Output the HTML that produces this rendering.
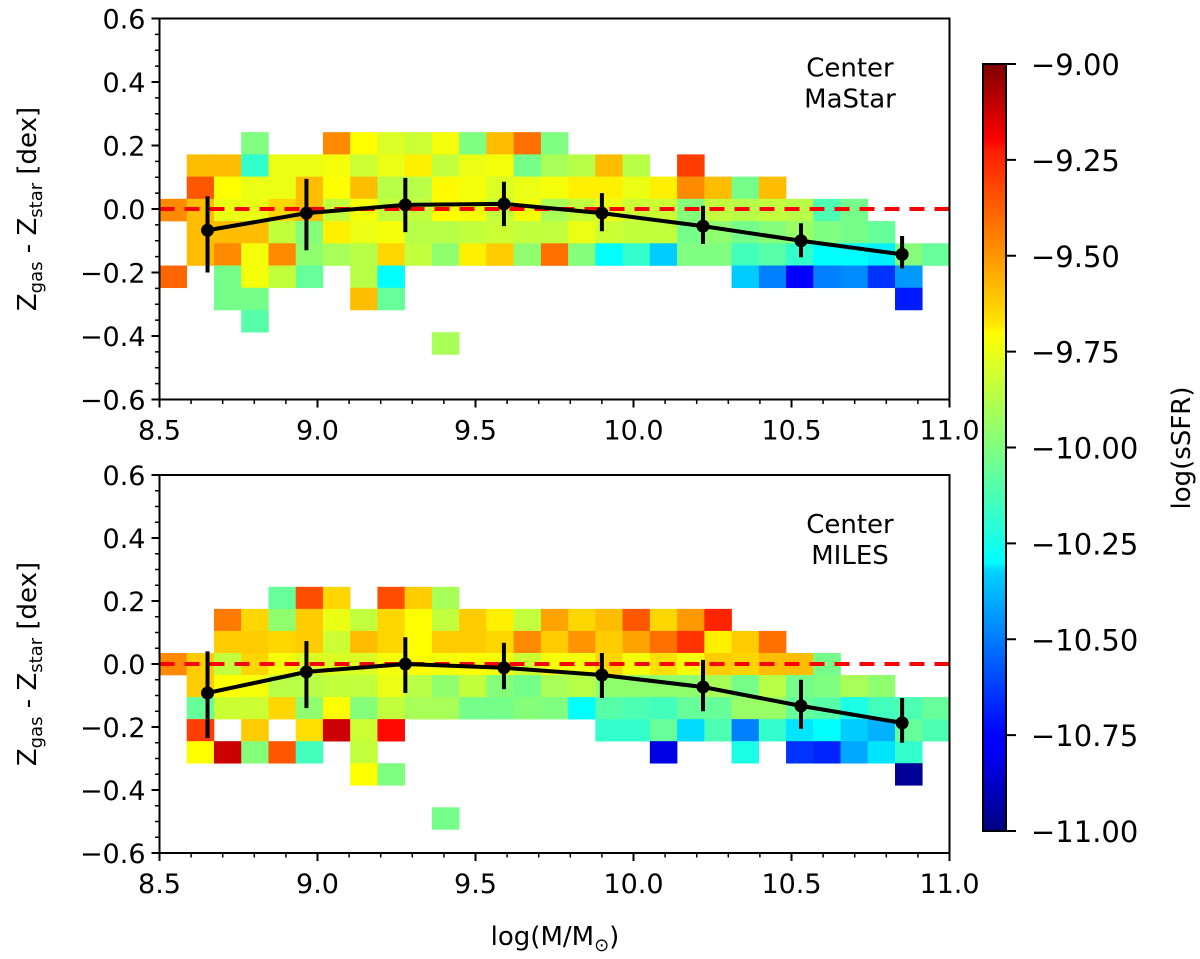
<!DOCTYPE html>
<html><head><meta charset="utf-8"><style>
body{margin:0;background:#fff;}
svg{display:block;font-family:"DejaVu Sans","Liberation Sans",sans-serif;}
</style></head><body>
<svg id="chart" width="1200" height="959" viewBox="0 0 1200 959" xmlns="http://www.w3.org/2000/svg">
<defs>
<linearGradient id="jet" x1="0" y1="1" x2="0" y2="0">
<stop offset="0" stop-color="#00007f"/><stop offset="0.11" stop-color="#0000ff"/><stop offset="0.125" stop-color="#0000ff"/><stop offset="0.34" stop-color="#00d4ff"/><stop offset="0.35" stop-color="#0ff"/><stop offset="0.5" stop-color="#7fff7f"/><stop offset="0.65" stop-color="#ff0"/><stop offset="0.66" stop-color="#ffe600"/><stop offset="0.89" stop-color="#ff1a00"/><stop offset="0.9" stop-color="#f00"/><stop offset="1" stop-color="#7f0000"/>
</linearGradient>
</defs>
</svg>
<script>
// ---- data ----
const massBins = 29, xMin = 8.5, xMax = 11.0, rowH = 0.07;
const topRowIdx = [3,2,1,0,-1,-2,-3,-4,-5,-6];
const topRowStart = [3,1,1,0,1,1,0,2,3,10];
const topRowVals = [
 [-10.0,null,null,-9.52,-9.75,-9.82,-9.85,-9.77,-10.0,-9.62,-9.47,-10.0],
 [-9.62,-9.62,-10.15,-9.79,-9.79,-9.77,-9.85,-9.79,-9.72,-9.87,-9.79,-9.77,-10.02,-9.92,-9.89,-9.62,-9.89,null,-9.37],
 [-9.42,-9.75,-9.79,-9.79,-9.62,-9.75,-9.62,-9.89,-9.89,-9.74,-9.77,-9.82,-9.79,-9.77,-9.72,-9.72,-9.79,-9.72,-9.52,-9.62,-10.02,-9.62],
 [-9.52,-9.62,-9.79,-9.79,-9.67,-9.62,-9.87,-9.77,-9.87,-9.87,-9.75,-9.77,-9.87,-9.77,-9.92,-9.87,-9.79,-9.85,-9.85,-9.99,-9.87,-9.89,-9.87,-9.89,-10.1,-10.02],
 [-9.62,-9.62,-9.62,-9.87,-9.99,-9.72,-9.79,-9.77,-9.89,-9.89,-9.87,-9.85,-9.87,-9.87,-9.79,-9.85,-9.87,-9.87,-10.02,-9.97,-10.02,-9.99,-9.95,-10.0,-10.02,-10.05],
 [-9.62,-9.52,-9.77,-9.52,-9.97,-9.92,-9.89,-9.67,-9.87,-9.97,-9.72,-9.65,-9.97,-9.47,-9.99,-10.25,-10.15,-10.35,-10.0,-10.0,-10.12,-10.08,-10.15,-10.25,-10.25,-10.28,-9.99,-10.05],
 [-9.45,null,-10.02,-9.77,-9.87,-10.05,null,-9.89,-10.25,null,null,null,null,null,null,null,null,null,null,null,null,-10.35,-10.5,-10.75,-10.5,-10.48,-10.65,-10.45],
 [-10.02,-10.02,null,null,null,-9.62,-10.05,null,null,null,null,null,null,null,null,null,null,null,null,null,null,null,null,null,null,-10.7],
 [-10.08],
 [-9.92]
];
const botRowIdx = [3,2,1,0,-1,-2,-3,-4,-5,-7];
const botRowStart = [4,2,2,0,1,1,1,1,7,10];
const botRowVals = [
 [-10.05,-9.4,-9.67,null,-9.4,-9.65,-9.92],
 [-9.49,-9.67,-9.97,-9.65,-9.79,-9.87,-9.67,-9.75,-9.87,-9.65,-9.72,-9.87,-9.57,-9.67,-9.62,-9.42,-9.67,-9.55,-9.32],
 [-9.65,-9.65,-9.67,-9.65,-9.85,-9.62,-9.67,-9.75,-9.65,-9.65,-9.67,-9.52,-9.65,-9.54,-9.65,-9.57,-9.47,-9.35,-9.72,-9.65,-9.47],
 [-9.52,-9.65,-9.87,-9.67,-9.77,-9.82,-9.82,-9.82,-9.77,-9.75,-9.77,-9.75,-9.77,-9.85,-9.77,-9.77,-9.67,-9.77,-9.69,-9.77,-9.65,-9.67,-9.62,-9.62,-10.02],
 [-9.65,-9.75,-9.77,-9.89,-9.89,-9.87,-9.87,-9.79,-9.89,-9.97,-9.87,-9.99,-10.02,-9.92,-9.89,-9.97,-9.97,-9.97,-9.97,-9.92,-10.02,-9.89,-10.02,-10.0,-9.92,-9.97],
 [-10.05,-9.85,-9.85,-9.67,-9.97,-9.75,-9.99,-9.87,-9.92,-9.92,-10.02,-10.02,-9.99,-10.0,-10.25,-10.08,-10.1,-10.12,-10.05,-10.05,-9.95,-9.95,-10.05,-10.08,-10.2,-10.12,-10.1,-10.05],
 [-9.37,null,-9.65,null,-9.69,-9.15,-9.85,-9.27,null,null,null,null,null,null,null,-10.15,-10.15,-10.05,-10.32,-10.1,-10.5,-10.15,-10.3,-10.25,-10.35,-10.4,-10.05,-10.1],
 [-9.75,-9.15,-9.99,-9.42,-10.12,null,-9.87,null,null,null,null,null,null,null,null,null,null,-10.8,null,null,-10.2,null,-10.65,-10.68,-10.42,-10.3,-10.15],
 [-9.75,-10.0,null,null,null,null,null,null,null,null,null,null,null,null,null,null,null,null,null,null,-10.95],
 [-10.02]
];
const medMass = [8.652,8.965,9.278,9.59,9.9,10.22,10.53,10.85];
const topMed = [-0.067,-0.013,0.013,0.016,-0.013,-0.054,-0.1,-0.143];
const topHi = [0.04,0.095,0.098,0.086,0.05,0.01,-0.045,-0.085];
const topLo = [-0.2,-0.13,-0.073,-0.054,-0.07,-0.11,-0.152,-0.187];
const botMed = [-0.092,-0.025,0.0,-0.012,-0.035,-0.073,-0.133,-0.187];
const botHi = [0.04,0.073,0.085,0.067,0.035,0.013,-0.05,-0.108];
const botLo = [-0.235,-0.14,-0.092,-0.08,-0.108,-0.15,-0.206,-0.25];
const xTicks = [8.5,9.0,9.5,10.0,10.5,11.0];
const xTickLabels = ["8.5","9.0","9.5","10.0","10.5","11.0"];
const yTicks = [0.6,0.4,0.2,0.0,-0.2,-0.4,-0.6];
const yTickLabels = ["0.6","0.4","0.2","0.0","\u22120.2","\u22120.4","\u22120.6"];
const cbTicks = [-9.0,-9.25,-9.5,-9.75,-10.0,-10.25,-10.5,-10.75,-11.0];
const cbTickLabels = ["\u22129.00","\u22129.25","\u22129.50","\u22129.75","\u221210.00","\u221210.25","\u221210.50","\u221210.75","\u221211.00"];

// ---- helpers ----
const NS="http://www.w3.org/2000/svg";
const svg=document.getElementById('chart');
function mk(tag,attrs,parent){const e=document.createElementNS(NS,tag);for(const k in attrs)e.setAttribute(k,attrs[k]);(parent||svg).appendChild(e);return e;}
function jet(v){const t=Math.max(0,Math.min(1,(v+11)/2));const c=x=>Math.round(255*Math.max(0,Math.min(1,1.5-Math.abs(4*t-x))));return `rgb(${c(3)},${c(2)},${c(1)})`;}
const X0=159.5,X1=949.5;
const xs=m=>X0+(m-xMin)/(xMax-xMin)*(X1-X0);

function panel(name,top,bot,zero,rowIdx,rowStart,rowVals,med,hi,lo,label1,label2){
  const ys=v=>zero-(v)*(bot-top)/1.2;
  const g=mk('g',{});
  
  
  const cw=(X1-X0)/massBins;
  const off = name==='top-panel' ? -0.003 : 0.0;
  rowIdx.forEach((r,i)=>{
    rowVals[i].forEach((v,j)=>{
      if(v===null)return;
      const col=rowStart[i]+j;
      const yc=off+r*rowH;
      const rc=mk('rect',{x:X0+col*cw,y:ys(yc+rowH/2),width:cw+0.3,height:ys(yc-rowH/2)-ys(yc+rowH/2)+0.3,fill:jet(v)},g);
      
      
    });
  });
  const zl=mk('line',{x1:X0,x2:X1,y1:ys(0),y2:ys(0),stroke:'#ff0000','stroke-width':4,'stroke-dasharray':'15 10'},g);
  
  
  med.forEach((m,i)=>{
    const eb=mk('line',{x1:xs(medMass[i]),x2:xs(medMass[i]),y1:ys(hi[i]),y2:ys(lo[i]),stroke:'#000','stroke-width':4},g);
    
    
  });
  const ln=mk('polyline',{points:med.map((m,i)=>xs(medMass[i])+','+ys(m)).join(' '),fill:'none',stroke:'#000','stroke-width':4},g);
  
  
  med.forEach((m,i)=>{
    const p=mk('circle',{cx:xs(medMass[i]),cy:ys(m),r:6.5,fill:'#000'},g);
    
    
  });
  const fr=mk('rect',{x:X0,y:top,width:X1-X0,height:bot-top,fill:'none',stroke:'#000','stroke-width':2},g);
  
  
  yTicks.forEach((t,i)=>{
    mk('line',{x1:X0-8,x2:X0,y1:ys(t),y2:ys(t),stroke:'#000','stroke-width':2},g);
    const tl=mk('text',{x:X0-14,y:ys(t)+10,'text-anchor':'end','font-size':27},g);
    tl.textContent=yTickLabels[i];
    
    
  });
  for(let k=-12;k<=12;k++){if(k%4===0)continue;const v=k*0.05;mk('line',{x1:X0-4.5,x2:X0,y1:ys(v),y2:ys(v),stroke:'#000','stroke-width':1.5},g);}
  xTicks.forEach((t,i)=>{
    mk('line',{x1:xs(t),x2:xs(t),y1:bot,y2:bot+8,stroke:'#000','stroke-width':2},g);
    const tl=mk('text',{x:xs(t),y:bot+40,'text-anchor':'middle','font-size':27},g);
    tl.textContent=xTickLabels[i];
    
    
  });
  for(let k=1;k<25;k++){if(k%5===0)continue;const v=8.5+k*0.1;mk('line',{x1:xs(v),x2:xs(v),y1:bot,y2:bot+4.5,stroke:'#000','stroke-width':1.5},g);}
  const yl=mk('text',{x:0,y:0,'text-anchor':'middle','font-size':26,transform:`translate(36,${(top+bot)/2}) rotate(-90)`},g);
  yl.innerHTML='Z<tspan font-size="18" dy="6">gas</tspan><tspan dy="-6"> - Z</tspan><tspan font-size="18" dy="6">star</tspan><tspan dy="-6"> [dex]</tspan>';
  
  
  const a=mk('text',{x:850,y:top+58,'text-anchor':'middle','font-size':26},g);a.textContent=label1;
  
  
  const b=mk('text',{x:850,y:top+89,'text-anchor':'middle','font-size':26},g);b.textContent=label2;
  
  
}
panel('top-panel',18.5,399.5,209,topRowIdx,topRowStart,topRowVals,topMed,topHi,topLo,'Center','MaStar');
panel('bottom-panel',475,853,664,botRowIdx,botRowStart,botRowVals,botMed,botHi,botLo,'Center','MILES');

const xl=mk('text',{x:555,y:945,'text-anchor':'middle','font-size':26});
xl.innerHTML='log(M/M<tspan font-size="18" dy="6">\u2299</tspan><tspan dy="-6">)</tspan>';



// colorbar
const CB0=64,CB1=831,CBX=983,CBW=23;
const cy=v=>CB0+(-9-v)/2*(CB1-CB0);
const cb=mk('rect',{x:CBX,y:CB0,width:CBW,height:CB1-CB0,fill:'url(#jet)',stroke:'#000','stroke-width':2});


cbTicks.forEach((t,i)=>{
  mk('line',{x1:CBX+CBW,x2:CBX+CBW+10,y1:cy(t),y2:cy(t),stroke:'#000','stroke-width':2});
  const tl=mk('text',{x:1031,y:cy(t)+11,'font-size':29});
  tl.textContent=cbTickLabels[i];
  
  
});
const cl=mk('text',{x:0,y:0,'text-anchor':'middle','font-size':26,transform:`translate(1190,448) rotate(-90)`});
cl.textContent='log(sSFR)';


</script>
</body></html>
